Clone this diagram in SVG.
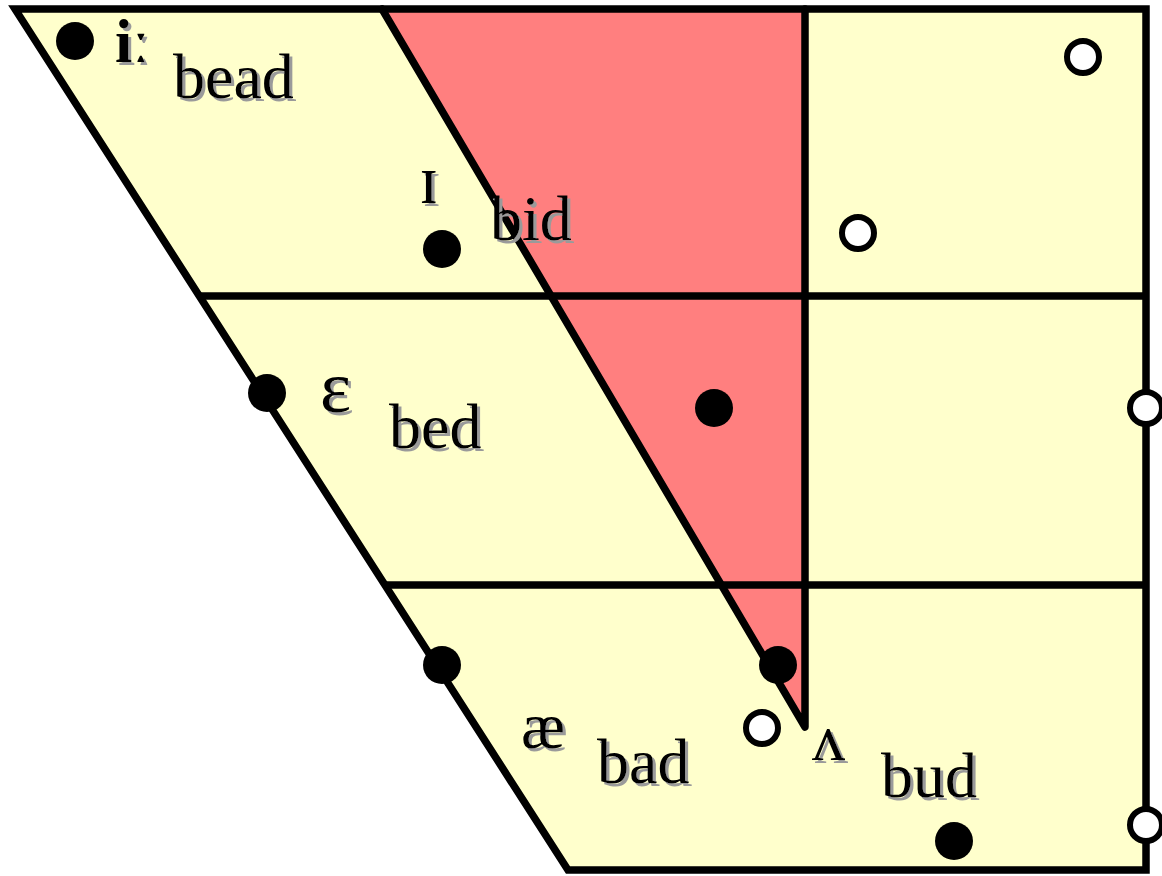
<svg xmlns="http://www.w3.org/2000/svg" width="1162" height="876" viewBox="0 0 1162 876">
<defs>
<filter id="sh" x="-20%" y="-20%" width="150%" height="150%">
<feDropShadow dx="3" dy="3" stdDeviation="0.6" flood-color="#9a9a9a" flood-opacity="1"/>
</filter>
<style>
.ln{stroke:#000;stroke-width:7.5;fill:none}
.dot{fill:#000}
.open{fill:#fff;stroke:#000;stroke-width:6}
.t{font-family:"Liberation Serif","Times New Roman",serif;fill:#000;filter:url(#sh)}
.w{font-size:64px}
</style>
</defs>
<rect width="1162" height="876" fill="#fff"/>
<g id="chart">
<polygon points="15,9 1146,9 1146,870 568,870" fill="#FFFFCC"/>
<polygon id="central" points="382,9 805,9 805,727" fill="#FF7F7F"/>
</g>
<g id="connectors">
<polygon class="ln" points="15,9 1146,9 1146,870 568,870" stroke-linejoin="miter"/>
<path class="ln" d="M382,9 L805,727 L805,9" stroke-linejoin="round" stroke-linecap="round"/>
<line class="ln" x1="199" y1="296" x2="1146" y2="296"/>
<line class="ln" x1="386" y1="585" x2="1146" y2="585"/>
</g>
<g id="v-i"><circle class="dot" cx="75" cy="41" r="19"/><text class="t" x="115" y="62" font-size="62" font-weight="bold">iː</text><text class="t w" x="173" y="98">bead</text></g>
<g id="v-I"><circle class="dot" cx="442" cy="249" r="19"/><text class="t" x="419" y="203" font-size="70">ɪ</text><text class="t w" x="490" y="240">bid</text></g>
<g id="v-e"><circle class="dot" cx="267" cy="393" r="19"/><text class="t" x="320" y="412" font-size="74">ɛ</text><text class="t w" x="389" y="448">bed</text></g>
<g id="v-central"><circle class="dot" cx="714" cy="408" r="19"/></g>
<g id="v-ae"><circle class="dot" cx="442" cy="665" r="19"/><text class="t" x="521" y="748" font-size="66">æ</text><text class="t w" x="597" y="783">bad</text></g>
<g id="v-low-central"><circle class="dot" cx="778" cy="665" r="19"/><circle class="open" cx="762" cy="728" r="16"/></g>
<g id="v-A"><circle class="dot" cx="954" cy="841" r="19"/><text class="t" x="812" y="760" font-size="66">ʌ</text><text class="t w" x="881" y="797">bud</text></g>
<g id="v-back"><circle class="open" cx="1083" cy="57" r="16"/><circle class="open" cx="858" cy="233" r="16"/><circle class="open" cx="1146" cy="408" r="16"/><circle class="open" cx="1146" cy="825" r="16"/></g>
</svg>
